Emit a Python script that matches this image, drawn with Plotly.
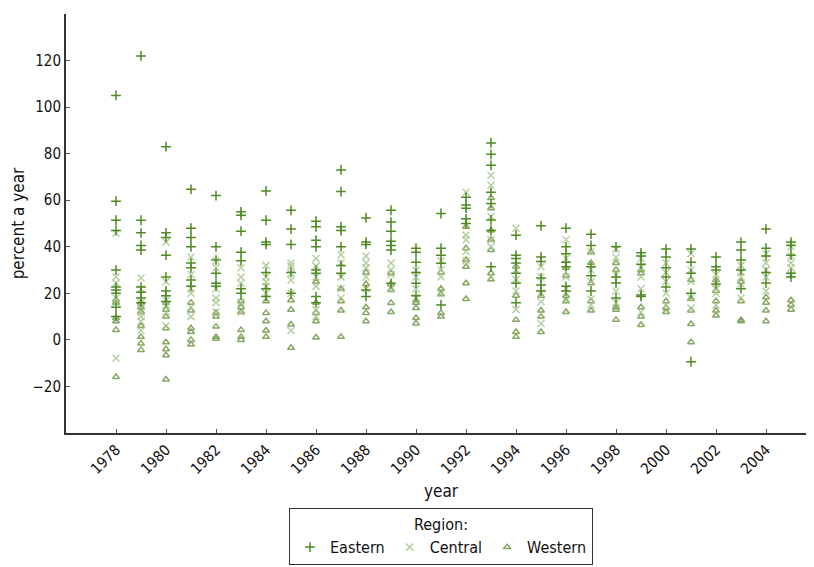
import plotly.graph_objects as go

years = list(range(1978, 2006))

eastern = [
    [105, 59.6, 51.4, 47, 30, 22.7, 21.4, 20, 14, 10],
    [122, 51.4, 46, 40.6, 38.6, 22.7, 20.5, 18, 16],
    [83, 46, 44, 36.4, 27, 21, 19, 16.5],
    [64.7, 48, 44, 40, 33, 31, 25.7, 23],
    [62, 40, 34.3, 28.6, 24.3, 23],
    [55, 53.5, 46.7, 37.7, 34, 22, 20],
    [64, 51.4, 42, 41, 29, 22, 18.6],
    [55.7, 47.6, 41, 29, 20],
    [51, 48.6, 42.8, 40, 30, 28.6, 18.6, 16],
    [73, 63.7, 48.6, 47, 40, 32, 28.6],
    [52.4, 42, 41, 21.4, 18.6],
    [55.7, 50.6, 46.7, 42.4, 40.6, 38.6, 24.3],
    [39.4, 37.7, 33.4, 29, 24.3, 19],
    [54.3, 39.4, 36.4, 32.9, 15],
    [61.3, 58, 56.6, 52, 50],
    [84.6, 79.7, 75, 63.4, 58.6, 51.5, 47, 31.4],
    [45, 36.4, 35, 33, 28.6, 24.3, 16],
    [49, 35.6, 33.7, 26.6, 23.6, 21],
    [48, 40, 37, 33.4, 31.4, 23, 21],
    [45.4, 40.6, 31.4, 27.6, 21],
    [40, 27, 24.4, 18],
    [37.4, 36, 32.5, 19.3, 18.6],
    [39, 35.6, 31, 27, 22.7],
    [39, 33.4, 28.6, 20, -9.4],
    [35.6, 31.4, 30, 24],
    [42, 38.6, 34.3, 30, 22],
    [47.6, 39.4, 36, 29, 24.4],
    [42, 40.6, 36.4, 28.6, 27],
]

central = [
    [45.8, 27, 24.4, 18, 16, -7.9],
    [26.6, 22, 15.9, 12, 10, 8, 4],
    [42, 25, 17, 15, 12, 6],
    [35.6, 28, 22, 20, 14, 10],
    [34, 31, 22, 18, 16, 12],
    [31, 27, 24.3, 16, 12],
    [32, 27, 25, 23, 20],
    [33, 31.7, 28.6, 25.7, 20, 4],
    [35, 31.7, 27, 23, 13, 10],
    [36.6, 33, 27, 22, 18],
    [36, 33, 31, 27, 22],
    [33, 30, 28, 22],
    [30, 27, 22, 18],
    [34, 30, 27, 20],
    [63.4, 45, 43, 38, 34],
    [70.7, 66.4, 53, 43, 40],
    [48, 30, 26, 21, 13],
    [31.4, 27, 20, 16.4, 7],
    [43, 35, 27, 22, 17],
    [38, 30, 25, 17.6, 15],
    [39, 35.4, 28, 21, 16],
    [35, 31, 27, 22, 12],
    [33, 29, 25, 20, 15],
    [37, 30, 25, 18, 13.7],
    [28, 24.3, 22, 20, 15],
    [32, 29, 27, 24, 18],
    [37, 33, 30, 27, 21],
    [40, 36, 33, 31, 28],
]

western = [
    [17, 16, 9.4, 8, 4.3, -15.9],
    [16, 14, 12, 6, 1.3, -1.5, -4.3],
    [16, 13, 10, 5, -1, -4, -6.6, -17],
    [16, 12.6, 5, 3.4, 0, -2],
    [11.6, 10, 5.7, 1.3, 0.5],
    [16.6, 14, 12, 4.3, 1.3, 0],
    [16.6, 11.6, 8, 4, 1.3],
    [17, 13, 6.6, -3.4],
    [25, 16, 11.6, 8, 1],
    [22, 16.6, 12.6, 1.3],
    [29, 24, 14, 11.6, 8],
    [28.6, 24, 21.4, 15.9, 12],
    [17, 16, 13.7, 9.4, 7],
    [29, 22, 19.6, 11.6, 10],
    [48.6, 39.4, 34.3, 31.4, 24.3, 17.6],
    [61, 56.6, 47, 43, 38.6, 28.6, 26],
    [31.4, 19, 8.6, 3.4, 1.3],
    [19, 12.6, 10, 3.4],
    [31, 27.6, 19, 16.6, 12],
    [37.7, 33, 24.3, 16.6, 12.6],
    [33, 30, 14, 13, 8.6],
    [30, 28.6, 14, 10, 6.4],
    [16.6, 13.7, 12],
    [25.7, 17.7, 12.6, 6.8, -1],
    [25.7, 21, 16.6, 12.6, 10.5],
    [25, 16.6, 8.6, 8],
    [18.3, 16, 12.6, 8],
    [17, 15, 13],
]

y_ticks = [-20, 0, 20, 40, 60, 80, 100, 120]
x_ticks = list(range(1978, 2005, 2))


def flatten(series):
    xs, ys = [], []
    for yr, vals in zip(years, series):
        for v in vals:
            xs.append(yr)
            ys.append(v)
    return xs, ys


FONT = "DejaVu Sans Condensed, Roboto, sans-serif"

fig = go.Figure()

wx, wy = flatten(western)
cx, cy = flatten(central)
ex, ey = flatten(eastern)

fig.add_trace(go.Scatter(
    x=wx, y=wy, mode="markers", name="Western", legendrank=3,
    marker=dict(symbol="triangle-up-open", size=6, color="#86a862",
                line=dict(width=1.5, color="#86a862")),
))
fig.add_trace(go.Scatter(
    x=cx, y=cy, mode="markers", name="Central", legendrank=2,
    marker=dict(symbol="x-thin-open", size=7, color="rgba(165,195,140,0.8)",
                line=dict(width=1.5, color="rgba(165,195,140,0.8)")),
))
fig.add_trace(go.Scatter(
    x=ex, y=ey, mode="markers", name="Eastern", legendrank=1,
    marker=dict(symbol="cross-thin-open", size=7, color="#4e8a22",
                line=dict(width=1.5, color="#4e8a22")),
))

fig.update_layout(
    width=814, height=567,
    margin=dict(l=58, r=6, t=6, b=142),
    plot_bgcolor="white", paper_bgcolor="white",
    font=dict(family=FONT, size=15, color="#111"),
    xaxis=dict(
        range=[1976, 2006], tickvals=x_ticks, tickangle=-45, automargin=False,
        showgrid=False, zeroline=False, showline=True, linecolor="#333", linewidth=2,
        ticks="inside", ticklen=4, tickcolor="#555",
        title=dict(text="year", font=dict(family=FONT, size=17), standoff=8),
        tickfont=dict(family=FONT, size=15),
    ),
    yaxis=dict(
        range=[-40, 140], tickvals=y_ticks, automargin=False,
        showgrid=False, zeroline=False, showline=True, linecolor="#333", linewidth=2,
        ticks="inside", ticklen=4, tickcolor="#555",
        title=dict(text="percent a year", font=dict(family=FONT, size=17), standoff=8),
        tickfont=dict(family=FONT, size=15),
    ),
    legend=dict(
        orientation="h", x=0.5, xanchor="center", y=-0.18, yanchor="top",
        bordercolor="#333", borderwidth=1,
        title=dict(text="Region:", side="top center", font=dict(family=FONT, size=16)),
        font=dict(family=FONT, size=16), itemwidth=30, tracegroupgap=0,
    ),
)

fig.write_html("out.html")
